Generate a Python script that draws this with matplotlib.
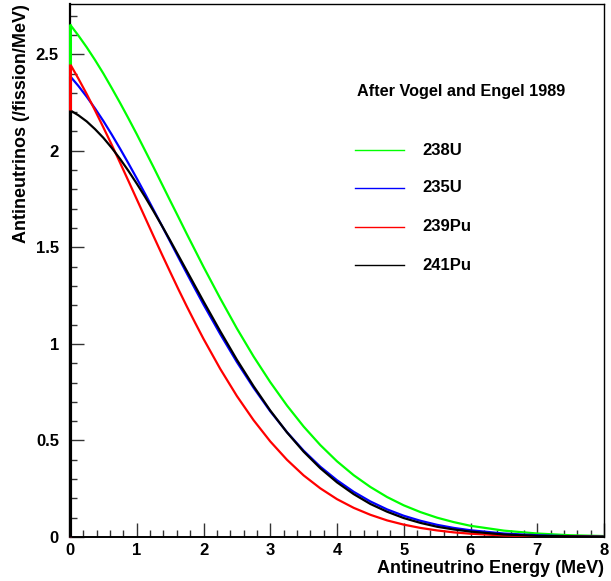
import matplotlib
matplotlib.use("Agg")
import matplotlib.pyplot as plt
from matplotlib.ticker import MultipleLocator, FuncFormatter

plt.rcParams['font.family'] = ['Liberation Sans', 'DejaVu Sans']
plt.rcParams['font.weight'] = 'bold'

energy = [0, 0.125, 0.25, 0.375, 0.5, 0.625, 0.75, 0.875, 1, 1.125, 1.25, 1.375, 1.5,
          1.625, 1.75, 1.875, 2, 2.25, 2.5, 2.75, 3, 3.25, 3.5,
          3.75, 4, 4.25, 4.5, 4.75, 5, 5.25, 5.5, 5.75, 6, 6.5, 7, 7.5, 8]
u238 = [2.654, 2.597, 2.536, 2.470, 2.400, 2.325, 2.248, 2.168, 2.086, 2.001, 1.916,
        1.829, 1.742, 1.656, 1.569, 1.484, 1.399, 1.236, 1.080,
        0.935, 0.802, 0.681, 0.572, 0.476, 0.392, 0.320, 0.259, 0.207, 0.164, 0.129,
        0.100, 0.077, 0.058, 0.033, 0.018, 0.009, 0.005]
u235 = [2.387, 2.336, 2.280, 2.219, 2.154, 2.084, 2.011, 1.935, 1.857, 1.777, 1.695,
        1.613, 1.530, 1.447, 1.365, 1.284, 1.204, 1.051, 0.906,
        0.773, 0.651, 0.543, 0.447, 0.364, 0.294, 0.234, 0.184, 0.143, 0.110, 0.084,
        0.063, 0.047, 0.035, 0.018, 0.009, 0.004, 0.002]
pu239 = [2.450, 2.374, 2.294, 2.209, 2.121, 2.031, 1.938, 1.844, 1.749, 1.654, 1.559,
         1.465, 1.373, 1.282, 1.194, 1.109, 1.026, 0.871, 0.730,
         0.605, 0.495, 0.400, 0.319, 0.252, 0.196, 0.151, 0.115, 0.086, 0.064, 0.047,
         0.034, 0.024, 0.017, 0.008, 0.004, 0.002, 0.001]
pu241 = [2.210, 2.184, 2.152, 2.112, 2.067, 2.015, 1.958, 1.896, 1.830, 1.761, 1.688,
         1.613, 1.536, 1.457, 1.378, 1.299, 1.220, 1.066, 0.918,
         0.781, 0.655, 0.542, 0.442, 0.356, 0.283, 0.222, 0.171, 0.131, 0.098, 0.073,
         0.053, 0.039, 0.028, 0.013, 0.006, 0.003, 0.001]

series = [("238U", u238, "#00ff00"), ("235U", u235, "#0000ff"),
          ("239Pu", pu239, "#ff0000"), ("241Pu", pu241, "#000000")]

fig = plt.figure(figsize=(6.11, 5.81), dpi=100)
ax = fig.add_axes([70/611, 1 - 537/581, 534/611, 533/581])

for name, vals, col in series:
    ax.plot(energy, vals, color=col, lw=1.6, solid_capstyle='butt',
            solid_joinstyle='round', zorder=3)
    ax.vlines(energy[0], 0, vals[0], color=col, lw=2.2, clip_on=False, zorder=4)

ax.set_xlim(0, 8)
ax.set_ylim(0, 2.76)
ax.xaxis.set_major_locator(MultipleLocator(1))
ax.xaxis.set_minor_locator(MultipleLocator(0.2))
ax.yaxis.set_major_locator(MultipleLocator(0.5))
ax.yaxis.set_minor_locator(MultipleLocator(0.1))
ax.yaxis.set_major_formatter(FuncFormatter(lambda v, p: f"{v:g}"))
ax.tick_params(which='both', direction='in', top=False, right=False,
               labelsize=12, width=1, color='#333333')
ax.tick_params(which='major', length=10)
ax.tick_params(axis='x', which='major', pad=4)
ax.tick_params(axis='y', which='major', pad=8)
ax.tick_params(which='minor', length=5)
for lab in ax.get_xticklabels() + ax.get_yticklabels():
    lab.set_fontweight('bold')
for s in ax.spines.values():
    s.set_linewidth(1)
ax.spines['left'].set_linewidth(1.6)
ax.spines['bottom'].set_linewidth(1.4)

ax.set_xlabel("Antineutrino Energy (MeV)", fontsize=13, fontweight='bold',
              loc='right', labelpad=2)
ax.set_ylabel("Antineutrinos (/fission/MeV)", fontsize=13, fontweight='bold',
              loc='top', labelpad=4)

ax.text(0.537, 0.835, "After Vogel and Engel 1989", transform=ax.transAxes,
        fontsize=11.7, fontweight='bold', va='center', ha='left')
leg_y = [0.726, 0.655, 0.582, 0.510]
for (name, vals, col), yy in zip(series, leg_y):
    ax.plot([0.534, 0.625], [yy, yy], color=col, lw=1, transform=ax.transAxes)
    ax.text(0.659, yy, name, transform=ax.transAxes, fontsize=12,
            fontweight='bold', va='center', ha='left')

fig.savefig("out.png", dpi=100)
